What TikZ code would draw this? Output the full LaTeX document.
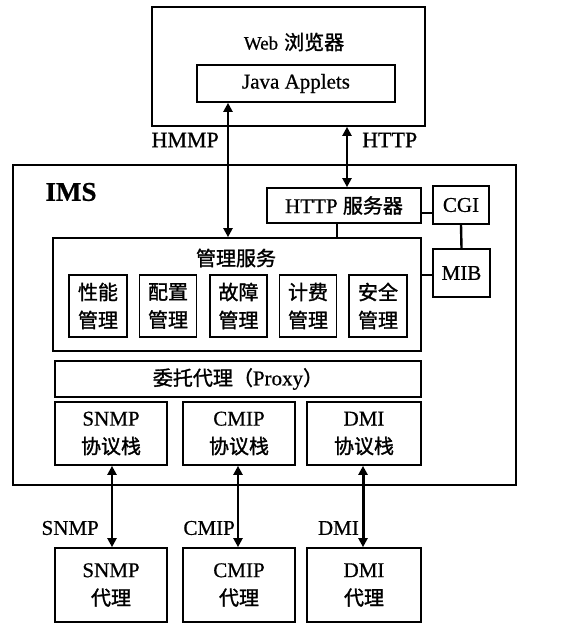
\documentclass[tikz,border=0pt]{standalone}
\usepackage{fontspec}
\setmainfont{Liberation Serif}[FakeBold=0.6]
\newfontfamily\cjk{Noto Sans CJK SC}[FakeBold=1.4]
\usetikzlibrary{arrows.meta}
\tikzset{
  box/.style={draw, line width=1.7pt, inner sep=0pt, align=center, font=\fontsize{21}{28}\selectfont},
  txt/.style={inner sep=0pt, align=center, font=\fontsize{21}{28}\selectfont},
  arr/.style={line width=2.2pt, {Triangle[length=9pt,width=9pt]}-{Triangle[length=9pt,width=9pt]}},
  conn/.style={line width=1.7pt}
}
\newcommand{\zh}[1]{{\cjk\fontsize{20}{28}\selectfont #1}}
\begin{document}
\begin{tikzpicture}[x=1pt,y=-1pt]
\useasboundingbox (0,0) rectangle (563,623);
% Web browser
\node[box, minimum width=273pt, minimum height=119pt] (web) at (288.5,66.5) {};
\node[txt, font=\fontsize{19}{22}\selectfont] (webt) at (294,42) {Web\hspace{6pt}\zh{浏览器}};
\node[box, minimum width=198pt, minimum height=37pt, font=\fontsize{21}{24}\selectfont] (java) at (296,83.5) {Java Applets};
% IMS
\node[box, minimum width=503pt, minimum height=320pt] (ims) at (264.5,325) {};
\node[txt, font=\fontsize{27}{30}\selectfont\bfseries] (imst) at (71,192) {IMS};
\node[box, minimum width=154pt, minimum height=35pt] (srv) at (344,205.5) {HTTP \zh{服务器}};
\node[box, minimum width=56pt, minimum height=38pt] (cgi) at (461,205) {CGI};
\node[box, minimum width=57pt, minimum height=48pt] (mib) at (461.5,273) {MIB};
\node[box, minimum width=368pt, minimum height=113pt] (mgmt) at (237,294.5) {};
\node[txt] (mgmtt) at (236,258) {\zh{管理服务}};
\node[box, minimum width=58pt, minimum height=62pt] (m1) at (98,306) {\zh{性能}\\\zh{管理}};
\node[box, minimum width=57pt, minimum height=62pt] (m2) at (168,306) {\zh{配置}\\\zh{管理}};
\node[box, minimum width=57pt, minimum height=62pt] (m3) at (238.5,306) {\zh{故障}\\\zh{管理}};
\node[box, minimum width=57pt, minimum height=62pt] (m4) at (308,306) {\zh{计费}\\\zh{管理}};
\node[box, minimum width=58pt, minimum height=62pt] (m5) at (378,306) {\zh{安全}\\\zh{管理}};
\node[box, minimum width=366pt, minimum height=36pt] (proxy) at (238,379) {\zh{委托代理（}Proxy\zh{）}};
\node[box, minimum width=112pt, minimum height=63pt] (s1) at (111,433.5) {SNMP\\\zh{协议栈}};
\node[box, minimum width=112pt, minimum height=63pt] (s2) at (239,433.5) {CMIP\\\zh{协议栈}};
\node[box, minimum width=114pt, minimum height=63pt] (s3) at (364,433.5) {DMI\\\zh{协议栈}};
% agents
\node[box, minimum width=112pt, minimum height=74pt] (a1) at (111,585) {SNMP\\\zh{代理}};
\node[box, minimum width=112pt, minimum height=74pt] (a2) at (239,585) {CMIP\\\zh{代理}};
\node[box, minimum width=114pt, minimum height=74pt] (a3) at (364,585) {DMI\\\zh{代理}};
% coordinates for connector positions
\coordinate (xh) at (228,0);
\coordinate (xt) at (347,0);
\coordinate (xs) at (337,0);
\coordinate (yc) at (0,213);
\coordinate (ym) at (0,275);
\coordinate (x1) at (112,0);
\coordinate (x2) at (238,0);
\coordinate (x3) at (363,0);
% connectors
\draw[arr] (java.south -| xh) -- (mgmt.north -| xh);
\draw[arr] (web.south -| xt) -- (srv.north -| xt);
\draw[conn] (srv.east |- yc) -- (cgi.west |- yc);
\draw[conn, line width=2.4pt] (cgi.south) -- (mib.north);
\draw[conn] (srv.south -| xs) -- (mgmt.north -| xs);
\draw[conn, line width=2.4pt] (mgmt.east |- ym) -- (mib.west |- ym);
\draw[arr] (s1.south -| x1) -- (a1.north -| x1);
\draw[arr] (s2.south -| x2) -- (a2.north -| x2);
\draw[arr, line width=3pt] (s3.south -| x3) -- (a3.north -| x3);
% labels
\node[txt, anchor=east, font=\fontsize{22}{26}\selectfont] (lh) at (219,140) {HMMP};
\node[txt, anchor=west, font=\fontsize{22}{26}\selectfont] (lt) at (362,140) {HTTP};
\node[txt, anchor=east] (ls) at (99,528) {SNMP};
\node[txt, anchor=east] (lc) at (235,528) {CMIP};
\node[txt, anchor=east] (ld) at (359,528) {DMI};
\end{tikzpicture}
\end{document}
